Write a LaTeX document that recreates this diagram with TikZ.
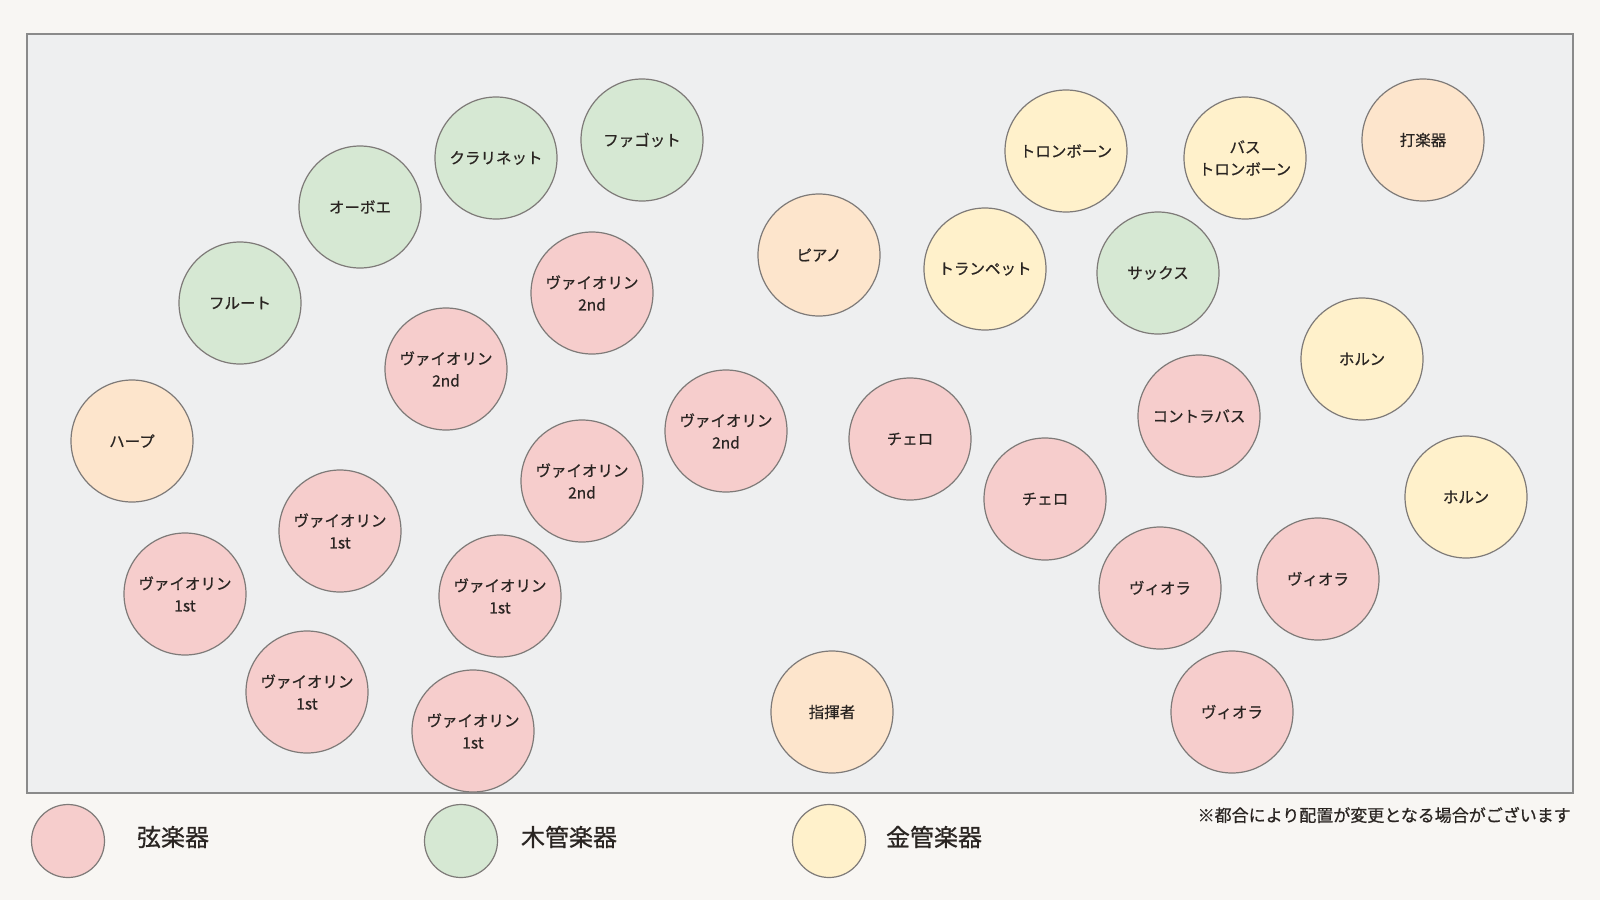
\documentclass[tikz,border=0pt]{standalone}
\usepackage{fontspec}
\setmainfont{Noto Sans CJK JP}[FakeBold=0.7]
\definecolor{pagebg}{HTML}{F8F6F3}
\definecolor{stagebg}{HTML}{EEEFF0}
\definecolor{framec}{HTML}{8A8A8A}
\definecolor{circc}{HTML}{7E7A78}
\definecolor{txt}{HTML}{2A2522}
\definecolor{strc}{HTML}{F6CDCC}
\definecolor{woodc}{HTML}{D6E8D3}
\definecolor{brassc}{HTML}{FFF1CB}
\definecolor{othc}{HTML}{FDE5CC}
\begin{document}
\begin{tikzpicture}[x=1pt,y=-1pt,
  inst/.style={circle,draw=circc,line width=1.2pt,minimum size=122pt,inner sep=0pt,align=center,text=txt,font=\fontsize{15.5}{22}\selectfont},
  strn/.style={inst,fill=strc},
  wood/.style={inst,fill=woodc},
  brass/.style={inst,fill=brassc},
  oth/.style={inst,fill=othc},
  legc/.style={circle,draw=circc,line width=1.2pt,minimum size=73pt,inner sep=0pt},
  legt/.style={text=txt,font=\fontsize{24}{28}\selectfont,inner sep=0pt}]
\useasboundingbox (0,0) rectangle (1600,900);
\fill[pagebg] (0,0) rectangle (1600,900);
\draw[fill=stagebg,draw=framec,line width=1.3pt] (27,34) rectangle (1573,793);
% woodwinds
\node[wood] (cl) at (496,158) {クラリネット};
\node[wood] (fg) at (642,140) {ファゴット};
\node[wood] (ob) at (360,207) {オーボエ};
\node[wood] (fl) at (240,303) {フルート};
\node[wood] (sx) at (1158,273) {サックス};
% others
\node[oth] (pf) at (819,255) {ピアノ};
\node[oth] (hp) at (132,441) {ハープ};
\node[oth] (pc) at (1423,140) {打楽器};
\node[oth] (cd) at (832,712) {指揮者};
% brass
\node[brass] (tb) at (1066,151) {トロンボーン};
\node[brass] (btb) at (1245,158) {バス\\トロンボーン};
\node[brass] (tp) at (985,269) {トランペット};
\node[brass] (hr1) at (1362,359) {ホルン};
\node[brass] (hr2) at (1466,497) {ホルン};
% strings
\node[strn] (v2a) at (592,293) {ヴァイオリン\\2nd};
\node[strn] (v2b) at (446,369) {ヴァイオリン\\2nd};
\node[strn] (v2c) at (726,431) {ヴァイオリン\\2nd};
\node[strn] (v2d) at (582,481) {ヴァイオリン\\2nd};
\node[strn] (v1a) at (340,531) {ヴァイオリン\\1st};
\node[strn] (v1b) at (185,594) {ヴァイオリン\\1st};
\node[strn] (v1c) at (500,596) {ヴァイオリン\\1st};
\node[strn] (v1d) at (307,692) {ヴァイオリン\\1st};
\node[strn] (v1e) at (473,731) {ヴァイオリン\\1st};
\node[strn] (vc1) at (910,439) {チェロ};
\node[strn] (vc2) at (1045,499) {チェロ};
\node[strn] (cb) at (1199,416) {コントラバス};
\node[strn] (va1) at (1160,588) {ヴィオラ};
\node[strn] (va2) at (1318,579) {ヴィオラ};
\node[strn] (va3) at (1232,712) {ヴィオラ};
% legend
\node[legc,fill=strc] (l1) at (68,841) {};
\node[legt] (t1) at (173,837) {弦楽器};
\node[legc,fill=woodc] (l2) at (461,841) {};
\node[legt] (t2) at (569,837) {木管楽器};
\node[legc,fill=brassc] (l3) at (829,841) {};
\node[legt] (t3) at (934,837) {金管楽器};
\node[text=txt,font=\fontsize{17}{20}\selectfont,inner sep=0pt,anchor=east] (note) at (1571,815) {※都合により配置が変更となる場合がございます};
\end{tikzpicture}
\end{document}
